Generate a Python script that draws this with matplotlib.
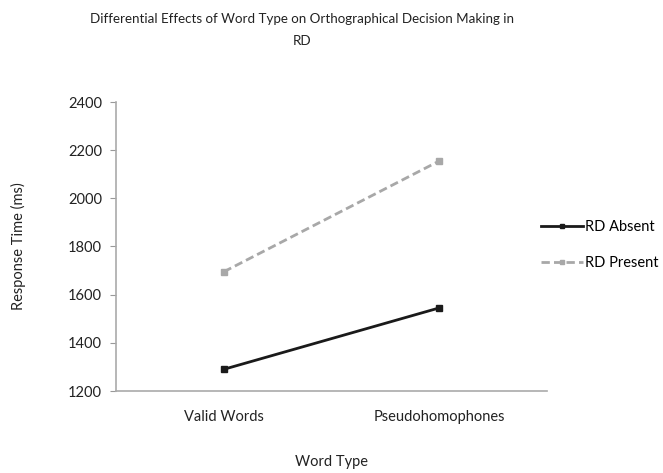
import matplotlib
matplotlib.use("Agg")
import matplotlib.pyplot as plt

categories = ["Valid Words", "Pseudohomophones"]
rd_absent = [1290, 1545]
rd_present = [1695, 2155]
yticks = [1200, 1400, 1600, 1800, 2000, 2200, 2400]

plt.rcParams['font.family'] = ['Lato', 'DejaVu Sans']

fig = plt.figure(figsize=(6.63, 4.73), dpi=100)
ax = fig.add_axes([116/663, (473-391)/473, (547-116)/663, (391-102)/473])

x = list(range(len(categories)))
ax.plot(x, rd_absent, color='#1a1a1a', lw=2, marker='s', ms=4, label='RD Absent')
ax.plot(x, rd_present, color='#a8a8a8', lw=2, ls=(0, (3, 1.5)), marker='s', ms=4, label='RD Present')

ax.set_xlim(-0.5, 1.5)
ax.set_ylim(1200, 2400)
ax.set_yticks(yticks)
ax.set_xticks(x)
ax.set_xticklabels(categories)
ax.tick_params(axis='y', length=4, color='#999999', labelsize=10.5, labelcolor='#222222', pad=6)
ax.tick_params(axis='x', length=0, labelsize=10.5, labelcolor='#222222', pad=14)
for s in ['top', 'right']:
    ax.spines[s].set_visible(False)
for s in ['left', 'bottom']:
    ax.spines[s].set_color('#aaaaaa')
    ax.spines[s].set_linewidth(1.2)

ax.set_xlabel('Word Type', fontsize=10.5, color='#222222', labelpad=22)
ax.set_ylabel('Response Time (ms)', fontsize=10.5, color='#222222', labelpad=30)

fig.text(302/663, 1 - 30/473, 'Differential Effects of Word Type on Orthographical Decision Making in\nRD',
         ha='center', va='center', fontsize=9.6, color='#222222', linespacing=2.0)

leg = ax.legend(loc='center left', bbox_to_anchor=(0.955, 0.505), frameon=False, fontsize=10.5,
                handlelength=2.9, labelspacing=1.55, handletextpad=0.15, markerscale=0.6)

fig.savefig('out.png', dpi=100)
